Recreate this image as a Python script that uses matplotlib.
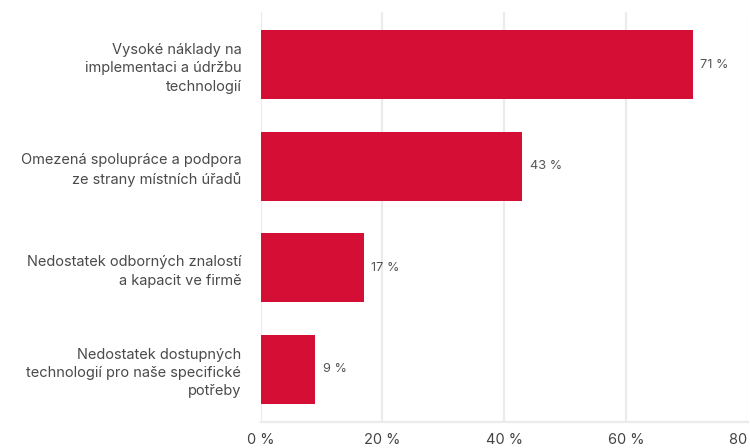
import matplotlib
matplotlib.use("Agg")
import matplotlib.pyplot as plt
from matplotlib.ticker import FuncFormatter

# survey answers, top to bottom
labels = [
    "Vysoké náklady na\nimplementaci a údržbu\ntechnologií",
    "Omezená spolupráce a podpora\nze strany místních úřadů",
    "Nedostatek odborných znalostí\na kapacit ve firmě",
    "Nedostatek dostupných\ntechnologií pro naše specifické\npotřeby",
]
values = [71, 43, 17, 9]
x_ticks = [0, 20, 40, 60, 80]

bar_color = "#d40e34"
grid_color = "#ebebeb"
text_color = "#4a4a4a"

plt.rcParams["font.family"] = ["Inter", "DejaVu Sans"]

fig = plt.figure(figsize=(7.5, 4.48), dpi=100)
# axes placed in figure pixels: x 260.7..747.5, y 12..422 (from top)
ax = fig.add_axes([260.7 / 750, 1 - 422 / 448, (747.5 - 260.7) / 750, 410 / 448])

pos = list(range(len(values)))
ax.barh(pos, values, height=0.68, color=bar_color, zorder=2)
ax.set_ylim(len(values) - 0.5 + 0.02, -0.52)
ax.set_xlim(0, 80)

for p, v in zip(pos, values):
    ax.text(v + 1.2, p, f"{v} %", va="center", ha="left",
            fontsize=9.2, color="#555555")

ax.set_xticks(x_ticks)
ax.xaxis.set_major_formatter(FuncFormatter(lambda v, _: f"{v:.0f} %"))
ax.set_yticks(pos)
ax.set_yticklabels(labels, fontsize=10.5, color=text_color, linespacing=1.4)

ax.grid(axis="x", color=grid_color, linewidth=1.6, zorder=0)
ax.tick_params(axis="y", length=0, pad=14)
ax.tick_params(axis="x", length=0, pad=8, labelsize=10.5, labelcolor="#444444")
for side in ["top", "right", "left"]:
    ax.spines[side].set_visible(False)
ax.spines["bottom"].set_color(grid_color)
ax.spines["bottom"].set_linewidth(1.6)

fig.savefig("out.png", dpi=100)
